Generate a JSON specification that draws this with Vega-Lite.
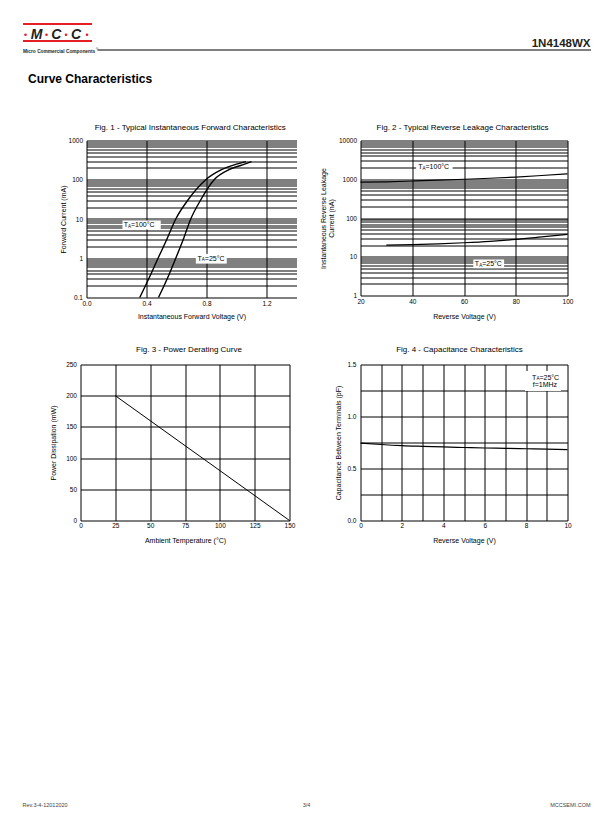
{
"$schema": "https://vega.github.io/schema/vega-lite/v6.json",
"background": "white",
"padding": {"left": 21.5, "top": 22.5, "right": 0, "bottom": 0},
"autosize": {"type": "pad"},
"bounds": "flush",
"columns": 2,
"spacing": {"row": 67, "column": 64},
"datasets": {
 "fig1": [
  {"t": "100", "v": 0.355, "i": 0.1}, {"t": "100", "v": 0.415, "i": 0.3}, {"t": "100", "v": 0.477, "i": 1}, {"t": "100", "v": 0.535, "i": 3}, {"t": "100", "v": 0.595, "i": 10}, {"t": "100", "v": 0.675, "i": 30}, {"t": "100", "v": 0.795, "i": 100}, {"t": "100", "v": 0.9, "i": 180}, {"t": "100", "v": 1.0, "i": 250}, {"t": "100", "v": 1.062, "i": 291},
  {"t": "25", "v": 0.48, "i": 0.1}, {"t": "25", "v": 0.538, "i": 0.3}, {"t": "25", "v": 0.595, "i": 1}, {"t": "25", "v": 0.645, "i": 3}, {"t": "25", "v": 0.695, "i": 10}, {"t": "25", "v": 0.76, "i": 30}, {"t": "25", "v": 0.851, "i": 100}, {"t": "25", "v": 0.95, "i": 180}, {"t": "25", "v": 1.04, "i": 240}, {"t": "25", "v": 1.1, "i": 290}
 ],
 "fig2": [
  {"t": "100", "v": 20, "i": 840}, {"t": "100", "v": 30, "i": 860}, {"t": "100", "v": 40, "i": 900}, {"t": "100", "v": 50, "i": 945}, {"t": "100", "v": 60, "i": 1000}, {"t": "100", "v": 70, "i": 1060}, {"t": "100", "v": 80, "i": 1140}, {"t": "100", "v": 90, "i": 1250}, {"t": "100", "v": 100, "i": 1380},
  {"t": "25", "v": 30, "i": 20}, {"t": "25", "v": 40, "i": 20.5}, {"t": "25", "v": 50, "i": 21.5}, {"t": "25", "v": 60, "i": 23}, {"t": "25", "v": 70, "i": 25}, {"t": "25", "v": 80, "i": 28}, {"t": "25", "v": 90, "i": 32.5}, {"t": "25", "v": 100, "i": 38}
 ],
 "fig3": [{"ta": 25, "p": 200}, {"ta": 150, "p": 0}],
 "fig4": [
  {"v": 0, "c": 0.745}, {"v": 1, "c": 0.731}, {"v": 2, "c": 0.72}, {"v": 3, "c": 0.713}, {"v": 4, "c": 0.707}, {"v": 5, "c": 0.702}, {"v": 6, "c": 0.697}, {"v": 7, "c": 0.694}, {"v": 8, "c": 0.69}, {"v": 9, "c": 0.686}, {"v": 10, "c": 0.682}
 ]
},
"config": {
 "view": {"stroke": null},
 "font": "Liberation Sans",
 "text": {"font": "Liberation Sans", "color": "black"},
 "axis": {"labelFont": "Liberation Sans", "labelFontSize": 6.5, "labelColor": "black", "titleFont": "Liberation Sans", "titleFontSize": 7, "titleFontWeight": "normal", "titleColor": "black", "ticks": false, "domain": false, "grid": true, "gridColor": "black", "gridOpacity": 1, "gridWidth": 1, "labelFlush": false, "labelOverlap": false},
 "title": {"font": "Liberation Sans", "fontSize": 8, "fontWeight": "normal", "color": "black", "anchor": "middle", "frame": "group", "baseline": "alphabetic"}
},
"concat": [
 {
  "width": 216, "height": 50,
  "data": {"values": [{}]},
  "layer": [
   {"mark": {"type": "rule", "color": "#e41f26", "strokeWidth": 2}, "encoding": {"x": {"datum": 22.5, "type": "quantitative", "scale": {"domain": [80, 296], "nice": false, "zero": false}, "axis": null}, "x2": {"datum": 91.5}, "y": {"datum": 23.5, "type": "quantitative", "scale": {"domain": [23, 73], "reverse": true, "nice": false, "zero": false}, "axis": null}}},
   {"mark": {"type": "rule", "color": "#e41f26", "strokeWidth": 2}, "encoding": {"x": {"datum": 22.5, "type": "quantitative", "scale": {"domain": [80, 296], "nice": false, "zero": false}, "axis": null}, "x2": {"datum": 91.5}, "y": {"datum": 40.5, "type": "quantitative", "scale": {"domain": [23, 73], "reverse": true, "nice": false, "zero": false}, "axis": null}}},
   {"mark": {"type": "text", "text": "M", "fontWeight": "bold", "fontStyle": "italic", "fontSize": 14, "color": "#231f20", "align": "center", "baseline": "alphabetic"}, "encoding": {"x": {"datum": 36, "type": "quantitative", "scale": {"domain": [80, 296], "nice": false, "zero": false}, "axis": null}, "y": {"datum": 38.7, "type": "quantitative", "scale": {"domain": [23, 73], "reverse": true, "nice": false, "zero": false}, "axis": null}}},
   {"mark": {"type": "text", "text": "C", "fontWeight": "bold", "fontStyle": "italic", "fontSize": 14, "color": "#231f20", "align": "center", "baseline": "alphabetic"}, "encoding": {"x": {"datum": 55.7, "type": "quantitative", "scale": {"domain": [80, 296], "nice": false, "zero": false}, "axis": null}, "y": {"datum": 38.7, "type": "quantitative", "scale": {"domain": [23, 73], "reverse": true, "nice": false, "zero": false}, "axis": null}}},
   {"mark": {"type": "text", "text": "C", "fontWeight": "bold", "fontStyle": "italic", "fontSize": 14, "color": "#231f20", "align": "center", "baseline": "alphabetic"}, "encoding": {"x": {"datum": 75.5, "type": "quantitative", "scale": {"domain": [80, 296], "nice": false, "zero": false}, "axis": null}, "y": {"datum": 38.7, "type": "quantitative", "scale": {"domain": [23, 73], "reverse": true, "nice": false, "zero": false}, "axis": null}}},
   {"mark": {"type": "point", "filled": true, "shape": "circle", "size": 7, "color": "#e41f26", "opacity": 1}, "encoding": {"x": {"datum": 25, "type": "quantitative", "scale": {"domain": [80, 296], "nice": false, "zero": false}, "axis": null}, "y": {"datum": 34.2, "type": "quantitative", "scale": {"domain": [23, 73], "reverse": true, "nice": false, "zero": false}, "axis": null}}},
   {"mark": {"type": "point", "filled": true, "shape": "circle", "size": 7, "color": "#e41f26", "opacity": 1}, "encoding": {"x": {"datum": 46, "type": "quantitative", "scale": {"domain": [80, 296], "nice": false, "zero": false}, "axis": null}, "y": {"datum": 34.2, "type": "quantitative", "scale": {"domain": [23, 73], "reverse": true, "nice": false, "zero": false}, "axis": null}}},
   {"mark": {"type": "point", "filled": true, "shape": "circle", "size": 7, "color": "#e41f26", "opacity": 1}, "encoding": {"x": {"datum": 65.5, "type": "quantitative", "scale": {"domain": [80, 296], "nice": false, "zero": false}, "axis": null}, "y": {"datum": 34.2, "type": "quantitative", "scale": {"domain": [23, 73], "reverse": true, "nice": false, "zero": false}, "axis": null}}},
   {"mark": {"type": "point", "filled": true, "shape": "circle", "size": 7, "color": "#e41f26", "opacity": 1}, "encoding": {"x": {"datum": 86.5, "type": "quantitative", "scale": {"domain": [80, 296], "nice": false, "zero": false}, "axis": null}, "y": {"datum": 34.2, "type": "quantitative", "scale": {"domain": [23, 73], "reverse": true, "nice": false, "zero": false}, "axis": null}}},
   {"mark": {"type": "text", "text": "Micro Commercial Components", "fontWeight": "bold", "fontSize": 4.8, "color": "#231f20", "align": "left", "baseline": "alphabetic"}, "encoding": {"x": {"datum": 22.5, "type": "quantitative", "scale": {"domain": [80, 296], "nice": false, "zero": false}, "axis": null}, "y": {"datum": 52.3, "type": "quantitative", "scale": {"domain": [23, 73], "reverse": true, "nice": false, "zero": false}, "axis": null}}},
   {"mark": {"type": "text", "text": "®", "fontSize": 3.5, "color": "#231f20", "align": "left", "baseline": "alphabetic"}, "encoding": {"x": {"datum": 95.3, "type": "quantitative", "scale": {"domain": [80, 296], "nice": false, "zero": false}, "axis": null}, "y": {"datum": 49.5, "type": "quantitative", "scale": {"domain": [23, 73], "reverse": true, "nice": false, "zero": false}, "axis": null}}},
   {"mark": {"type": "text", "text": "Curve Characteristics", "fontWeight": "bold", "fontSize": 12, "color": "black", "align": "left", "baseline": "alphabetic"}, "encoding": {"x": {"datum": 27.5, "type": "quantitative", "scale": {"domain": [80, 296], "nice": false, "zero": false}, "axis": null}, "y": {"datum": 82.5, "type": "quantitative", "scale": {"domain": [23, 73], "reverse": true, "nice": false, "zero": false}, "axis": null}}}
  ]
 },
 {
  "width": 207, "height": 50,
  "data": {"values": [{}]},
  "layer": [
   {"mark": {"type": "rule", "color": "black", "strokeWidth": 1}, "encoding": {"x": {"datum": 97, "type": "quantitative", "scale": {"domain": [360, 567], "nice": false, "zero": false}, "axis": null}, "x2": {"datum": 590.5}, "y": {"datum": 49.5, "type": "quantitative", "scale": {"domain": [23, 73], "reverse": true, "nice": false, "zero": false}, "axis": null}}},
   {"mark": {"type": "text", "text": "1N4148WX", "font": "Liberation Sans Narrow, Liberation Sans", "fontWeight": "bold", "fontSize": 11.5, "color": "#231f20", "align": "right", "baseline": "alphabetic"}, "encoding": {"x": {"datum": 590, "type": "quantitative", "scale": {"domain": [360, 567], "nice": false, "zero": false}, "axis": null}, "y": {"datum": 46.3, "type": "quantitative", "scale": {"domain": [23, 73], "reverse": true, "nice": false, "zero": false}, "axis": null}}}
  ]
 },
 {
  "width": 216, "height": 157,
  "title": {"text": "Fig. 1 - Typical Instantaneous Forward Characteristics", "offset": 6, "dx": 1.7},
  "data": {"values": [{}]},
  "layer": [
   {"mark": {"type": "rect", "color": "white", "opacity": 1}, "encoding": {"x": {"datum": 0.24, "type": "quantitative", "scale": {"domain": [0, 1.4], "range": [6, 216], "nice": false, "zero": false}}, "x2": {"datum": 0.495}, "y": {"datum": 5.4, "type": "quantitative", "scale": {"type": "log", "domain": [0.1, 1000], "nice": false}}, "y2": {"datum": 9.1}}},
   {"mark": {"type": "rect", "color": "white", "opacity": 1}, "encoding": {"x": {"datum": 0.729, "type": "quantitative", "scale": {"domain": [0, 1.4], "range": [6, 216], "nice": false, "zero": false}}, "x2": {"datum": 0.935}, "y": {"datum": 0.73, "type": "quantitative", "scale": {"type": "log", "domain": [0.1, 1000], "nice": false}}, "y2": {"datum": 1.29}}},
   {"data": {"name": "fig1"}, "mark": {"type": "line", "color": "black", "strokeWidth": 1.4, "interpolate": "monotone"},
    "encoding": {
     "x": {"field": "v", "type": "quantitative", "scale": {"domain": [0, 1.4], "range": [6, 216], "nice": false, "zero": false}, "axis": {"title": "Instantaneous Forward Voltage (V)", "values": [0, 0.2, 0.4, 0.6, 0.8, 1, 1.2, 1.4], "labelExpr": "datum.value < 1.3 && abs(datum.value*2.5 - round(datum.value*2.5)) < 0.01 ? format(datum.value, '.1f') : ''", "labelPadding": 3, "titlePadding": 5}},
     "y": {"field": "i", "type": "quantitative", "scale": {"type": "log", "domain": [0.1, 1000], "nice": false}, "axis": {"title": "Forward Current (mA)", "offset": -6, "values": [0.1, 0.2, 0.3, 0.4, 0.5, 0.6, 0.7, 0.8, 0.9, 1, 2, 3, 4, 5, 6, 7, 8, 9, 10, 20, 30, 40, 50, 60, 70, 80, 90, 100, 200, 300, 400, 500, 600, 700, 800, 900, 1000], "labelExpr": "abs(log(datum.value)/LN10 - round(log(datum.value)/LN10)) < 0.001 ? format(datum.value, '~g') : ''", "labelPadding": 4, "titlePadding": 1.5}},
     "detail": {"field": "t", "type": "nominal"}
    }},
   {"mark": {"type": "text", "text": "T", "fontSize": 7, "align": "left", "baseline": "middle"}, "encoding": {"x": {"datum": 0.248, "type": "quantitative", "scale": {"domain": [0, 1.4], "range": [6, 216], "nice": false, "zero": false}}, "y": {"datum": 7, "type": "quantitative", "scale": {"type": "log", "domain": [0.1, 1000], "nice": false}}}},
   {"mark": {"type": "text", "text": "A", "fontSize": 4.5, "align": "left", "baseline": "middle", "dx": 4.3, "dy": 1.8}, "encoding": {"x": {"datum": 0.248, "type": "quantitative", "scale": {"domain": [0, 1.4], "range": [6, 216], "nice": false, "zero": false}}, "y": {"datum": 7, "type": "quantitative", "scale": {"type": "log", "domain": [0.1, 1000], "nice": false}}}},
   {"mark": {"type": "text", "text": "=100°C", "fontSize": 7, "align": "left", "baseline": "middle", "dx": 7.3}, "encoding": {"x": {"datum": 0.248, "type": "quantitative", "scale": {"domain": [0, 1.4], "range": [6, 216], "nice": false, "zero": false}}, "y": {"datum": 7, "type": "quantitative", "scale": {"type": "log", "domain": [0.1, 1000], "nice": false}}}},
   {"mark": {"type": "text", "text": "T", "fontSize": 7, "align": "left", "baseline": "middle"}, "encoding": {"x": {"datum": 0.74, "type": "quantitative", "scale": {"domain": [0, 1.4], "range": [6, 216], "nice": false, "zero": false}}, "y": {"datum": 0.98, "type": "quantitative", "scale": {"type": "log", "domain": [0.1, 1000], "nice": false}}}},
   {"mark": {"type": "text", "text": "A", "fontSize": 4.5, "align": "left", "baseline": "middle", "dx": 4.3, "dy": 1.8}, "encoding": {"x": {"datum": 0.74, "type": "quantitative", "scale": {"domain": [0, 1.4], "range": [6, 216], "nice": false, "zero": false}}, "y": {"datum": 0.98, "type": "quantitative", "scale": {"type": "log", "domain": [0.1, 1000], "nice": false}}}},
   {"mark": {"type": "text", "text": "=25°C", "fontSize": 7, "align": "left", "baseline": "middle", "dx": 7.3}, "encoding": {"x": {"datum": 0.74, "type": "quantitative", "scale": {"domain": [0, 1.4], "range": [6, 216], "nice": false, "zero": false}}, "y": {"datum": 0.98, "type": "quantitative", "scale": {"type": "log", "domain": [0.1, 1000], "nice": false}}}}
  ]
 },
 {
  "width": 207, "height": 155,
  "title": {"text": "Fig. 2 - Typical Reverse Leakage Characteristics", "offset": 6, "dx": -1.5},
  "data": {"values": [{}]},
  "layer": [
   {"mark": {"type": "rect", "color": "white", "opacity": 1}, "encoding": {"x": {"datum": 41.5, "type": "quantitative", "scale": {"domain": [20, 100], "nice": false, "zero": false}}, "x2": {"datum": 55.6}, "y": {"datum": 1614, "type": "quantitative", "scale": {"type": "log", "domain": [1, 10000], "nice": false}}, "y2": {"datum": 2594}}},
   {"mark": {"type": "rect", "color": "white", "opacity": 1}, "encoding": {"x": {"datum": 63.6, "type": "quantitative", "scale": {"domain": [20, 100], "nice": false, "zero": false}}, "x2": {"datum": 75.5}, "y": {"datum": 5.07, "type": "quantitative", "scale": {"type": "log", "domain": [1, 10000], "nice": false}}, "y2": {"datum": 8.49}}},
   {"data": {"name": "fig2"}, "mark": {"type": "line", "color": "black", "strokeWidth": 1.2, "interpolate": "monotone"},
    "encoding": {
     "x": {"field": "v", "type": "quantitative", "scale": {"domain": [20, 100], "nice": false, "zero": false}, "axis": {"title": "Reverse Voltage (V)", "values": [20, 30, 40, 50, 60, 70, 80, 90, 100], "labelExpr": "datum.value % 20 == 0 ? datum.label : ''", "labelPadding": 3, "titlePadding": 7}},
     "y": {"field": "i", "type": "quantitative", "scale": {"type": "log", "domain": [1, 10000], "nice": false}, "axis": {"title": ["Instantaneous Reverse Leakage", "Current (nA)"], "titleLineHeight": 7.5, "values": [1, 2, 3, 4, 5, 6, 7, 8, 9, 10, 20, 30, 40, 50, 60, 70, 80, 90, 100, 200, 300, 400, 500, 600, 700, 800, 900, 1000, 2000, 3000, 4000, 5000, 6000, 7000, 8000, 9000, 10000], "labelExpr": "abs(log(datum.value)/LN10 - round(log(datum.value)/LN10)) < 0.001 ? format(datum.value, '~g') : ''", "labelPadding": 4, "titlePadding": 4}},
     "detail": {"field": "t", "type": "nominal"}
    }},
   {"mark": {"type": "text", "text": "T", "fontSize": 7, "align": "left", "baseline": "middle"}, "encoding": {"x": {"datum": 42.3, "type": "quantitative", "scale": {"domain": [20, 100], "nice": false, "zero": false}}, "y": {"datum": 2046, "type": "quantitative", "scale": {"type": "log", "domain": [1, 10000], "nice": false}}}},
   {"mark": {"type": "text", "text": "A", "fontSize": 4.5, "align": "left", "baseline": "middle", "dx": 4.3, "dy": 1.8}, "encoding": {"x": {"datum": 42.3, "type": "quantitative", "scale": {"domain": [20, 100], "nice": false, "zero": false}}, "y": {"datum": 2046, "type": "quantitative", "scale": {"type": "log", "domain": [1, 10000], "nice": false}}}},
   {"mark": {"type": "text", "text": "=100°C", "fontSize": 7, "align": "left", "baseline": "middle", "dx": 7.3}, "encoding": {"x": {"datum": 42.3, "type": "quantitative", "scale": {"domain": [20, 100], "nice": false, "zero": false}}, "y": {"datum": 2046, "type": "quantitative", "scale": {"type": "log", "domain": [1, 10000], "nice": false}}}},
   {"mark": {"type": "text", "text": "T", "fontSize": 7, "align": "left", "baseline": "middle"}, "encoding": {"x": {"datum": 64.2, "type": "quantitative", "scale": {"domain": [20, 100], "nice": false, "zero": false}}, "y": {"datum": 6.58, "type": "quantitative", "scale": {"type": "log", "domain": [1, 10000], "nice": false}}}},
   {"mark": {"type": "text", "text": "A", "fontSize": 4.5, "align": "left", "baseline": "middle", "dx": 4.3, "dy": 1.8}, "encoding": {"x": {"datum": 64.2, "type": "quantitative", "scale": {"domain": [20, 100], "nice": false, "zero": false}}, "y": {"datum": 6.58, "type": "quantitative", "scale": {"type": "log", "domain": [1, 10000], "nice": false}}}},
   {"mark": {"type": "text", "text": "=25°C", "fontSize": 7, "align": "left", "baseline": "middle", "dx": 7.3}, "encoding": {"x": {"datum": 64.2, "type": "quantitative", "scale": {"domain": [20, 100], "nice": false, "zero": false}}, "y": {"datum": 6.58, "type": "quantitative", "scale": {"type": "log", "domain": [1, 10000], "nice": false}}}}
  ]
 },
 {
  "width": 209, "height": 156,
  "title": {"text": "Fig. 3 - Power Derating Curve", "offset": 8, "dx": 4},
  "data": {"name": "fig3"},
  "mark": {"type": "line", "color": "black", "strokeWidth": 1},
  "encoding": {
   "x": {"field": "ta", "type": "quantitative", "scale": {"domain": [0, 150], "nice": false, "zero": false}, "axis": {"title": "Ambient Temperature (°C)", "values": [0, 25, 50, 75, 100, 125, 150], "labelPadding": 2, "titlePadding": 7}},
   "y": {"field": "p", "type": "quantitative", "scale": {"domain": [0, 250], "nice": false, "zero": false}, "axis": {"title": "Power Dissipation  (mW)", "values": [0, 50, 100, 150, 200, 250], "labelPadding": 4, "titlePadding": 9}}
  }
 },
 {
  "width": 207, "height": 156,
  "title": {"text": "Fig. 4 - Capacitance Characteristics", "offset": 8, "dx": -4.5},
  "data": {"values": [{}]},
  "layer": [
   {"mark": {"type": "rect", "color": "white", "opacity": 1}, "encoding": {"x": {"datum": 7.95, "type": "quantitative", "scale": {"domain": [0, 10], "nice": false, "zero": false}, "axis": {"title": "Reverse Voltage (V)", "values": [0, 1, 2, 3, 4, 5, 6, 7, 8, 9, 10], "labelExpr": "datum.value % 2 == 0 ? datum.label : ''", "labelPadding": 2, "titlePadding": 7}}, "x2": {"datum": 9.68}, "y": {"datum": 1.245, "type": "quantitative", "scale": {"domain": [0, 1.5], "nice": false, "zero": false}, "axis": {"title": "Capacitance Between Terminals (pF)", "values": [0, 0.25, 0.5, 0.75, 1, 1.25, 1.5], "labelExpr": "datum.value*2 == round(datum.value*2) ? format(datum.value, '.1f') : ''", "labelPadding": 4.5, "titlePadding": 5}}, "y2": {"datum": 1.437}}},
   {"data": {"name": "fig4"}, "mark": {"type": "line", "color": "black", "strokeWidth": 1.2, "interpolate": "monotone"},
    "encoding": {
     "x": {"field": "v", "type": "quantitative", "scale": {"domain": [0, 10], "nice": false, "zero": false}, "axis": {"title": "Reverse Voltage (V)", "values": [0, 1, 2, 3, 4, 5, 6, 7, 8, 9, 10], "labelExpr": "datum.value % 2 == 0 ? datum.label : ''", "labelPadding": 2, "titlePadding": 7}},
     "y": {"field": "c", "type": "quantitative", "scale": {"domain": [0, 1.5], "nice": false, "zero": false}, "axis": {"title": "Capacitance Between Terminals (pF)", "values": [0, 0.25, 0.5, 0.75, 1, 1.25, 1.5], "labelExpr": "datum.value*2 == round(datum.value*2) ? format(datum.value, '.1f') : ''", "labelPadding": 4.5, "titlePadding": 5}}
    }},
   {"mark": {"type": "text", "text": "T", "fontSize": 7, "align": "left", "baseline": "middle"}, "encoding": {"x": {"datum": 8.29, "type": "quantitative", "scale": {"domain": [0, 10], "nice": false, "zero": false}, "axis": {"title": "Reverse Voltage (V)", "values": [0, 1, 2, 3, 4, 5, 6, 7, 8, 9, 10], "labelExpr": "datum.value % 2 == 0 ? datum.label : ''", "labelPadding": 2, "titlePadding": 7}}, "y": {"datum": 1.374, "type": "quantitative", "scale": {"domain": [0, 1.5], "nice": false, "zero": false}, "axis": {"title": "Capacitance Between Terminals (pF)", "values": [0, 0.25, 0.5, 0.75, 1, 1.25, 1.5], "labelExpr": "datum.value*2 == round(datum.value*2) ? format(datum.value, '.1f') : ''", "labelPadding": 4.5, "titlePadding": 5}}}},
   {"mark": {"type": "text", "text": "A", "fontSize": 4.5, "align": "left", "baseline": "middle", "dx": 4.3, "dy": 1.8}, "encoding": {"x": {"datum": 8.29, "type": "quantitative", "scale": {"domain": [0, 10], "nice": false, "zero": false}, "axis": {"title": "Reverse Voltage (V)", "values": [0, 1, 2, 3, 4, 5, 6, 7, 8, 9, 10], "labelExpr": "datum.value % 2 == 0 ? datum.label : ''", "labelPadding": 2, "titlePadding": 7}}, "y": {"datum": 1.374, "type": "quantitative", "scale": {"domain": [0, 1.5], "nice": false, "zero": false}, "axis": {"title": "Capacitance Between Terminals (pF)", "values": [0, 0.25, 0.5, 0.75, 1, 1.25, 1.5], "labelExpr": "datum.value*2 == round(datum.value*2) ? format(datum.value, '.1f') : ''", "labelPadding": 4.5, "titlePadding": 5}}}},
   {"mark": {"type": "text", "text": "=25°C", "fontSize": 7, "align": "left", "baseline": "middle", "dx": 7.3}, "encoding": {"x": {"datum": 8.29, "type": "quantitative", "scale": {"domain": [0, 10], "nice": false, "zero": false}, "axis": {"title": "Reverse Voltage (V)", "values": [0, 1, 2, 3, 4, 5, 6, 7, 8, 9, 10], "labelExpr": "datum.value % 2 == 0 ? datum.label : ''", "labelPadding": 2, "titlePadding": 7}}, "y": {"datum": 1.374, "type": "quantitative", "scale": {"domain": [0, 1.5], "nice": false, "zero": false}, "axis": {"title": "Capacitance Between Terminals (pF)", "values": [0, 0.25, 0.5, 0.75, 1, 1.25, 1.5], "labelExpr": "datum.value*2 == round(datum.value*2) ? format(datum.value, '.1f') : ''", "labelPadding": 4.5, "titlePadding": 5}}}},
   {"mark": {"type": "text", "text": "f=1MHz", "fontSize": 7, "align": "left", "baseline": "middle"}, "encoding": {"x": {"datum": 8.32, "type": "quantitative", "scale": {"domain": [0, 10], "nice": false, "zero": false}, "axis": {"title": "Reverse Voltage (V)", "values": [0, 1, 2, 3, 4, 5, 6, 7, 8, 9, 10], "labelExpr": "datum.value % 2 == 0 ? datum.label : ''", "labelPadding": 2, "titlePadding": 7}}, "y": {"datum": 1.3, "type": "quantitative", "scale": {"domain": [0, 1.5], "nice": false, "zero": false}, "axis": {"title": "Capacitance Between Terminals (pF)", "values": [0, 0.25, 0.5, 0.75, 1, 1.25, 1.5], "labelExpr": "datum.value*2 == round(datum.value*2) ? format(datum.value, '.1f') : ''", "labelPadding": 4.5, "titlePadding": 5}}}}
  ]
 },
 {
  "width": 216, "height": 230,
  "data": {"values": [{}]},
  "layer": [
   {"mark": {"type": "text", "text": "Rev.3-4-12012020", "fontSize": 5.5, "color": "#444444", "align": "left", "baseline": "alphabetic"}, "encoding": {"x": {"datum": 22, "type": "quantitative", "scale": {"domain": [80, 296], "nice": false, "zero": false}, "axis": null}, "y": {"datum": 806, "type": "quantitative", "scale": {"domain": [587, 817], "reverse": true, "nice": false, "zero": false}, "axis": null}}},
   {"mark": {"type": "text", "text": "3/4", "fontSize": 5.5, "color": "#444444", "align": "center", "baseline": "alphabetic"}, "encoding": {"x": {"datum": 306, "type": "quantitative", "scale": {"domain": [80, 296], "nice": false, "zero": false}, "axis": null}, "y": {"datum": 806, "type": "quantitative", "scale": {"domain": [587, 817], "reverse": true, "nice": false, "zero": false}, "axis": null}}}
  ]
 },
 {
  "width": 207, "height": 230,
  "data": {"values": [{}]},
  "layer": [
   {"mark": {"type": "text", "text": "MCCSEMI.COM", "fontSize": 5.5, "color": "#444444", "align": "right", "baseline": "alphabetic"}, "encoding": {"x": {"datum": 590, "type": "quantitative", "scale": {"domain": [360, 567], "nice": false, "zero": false}, "axis": null}, "y": {"datum": 806, "type": "quantitative", "scale": {"domain": [587, 817], "reverse": true, "nice": false, "zero": false}, "axis": null}}}
  ]
 }
]
}
